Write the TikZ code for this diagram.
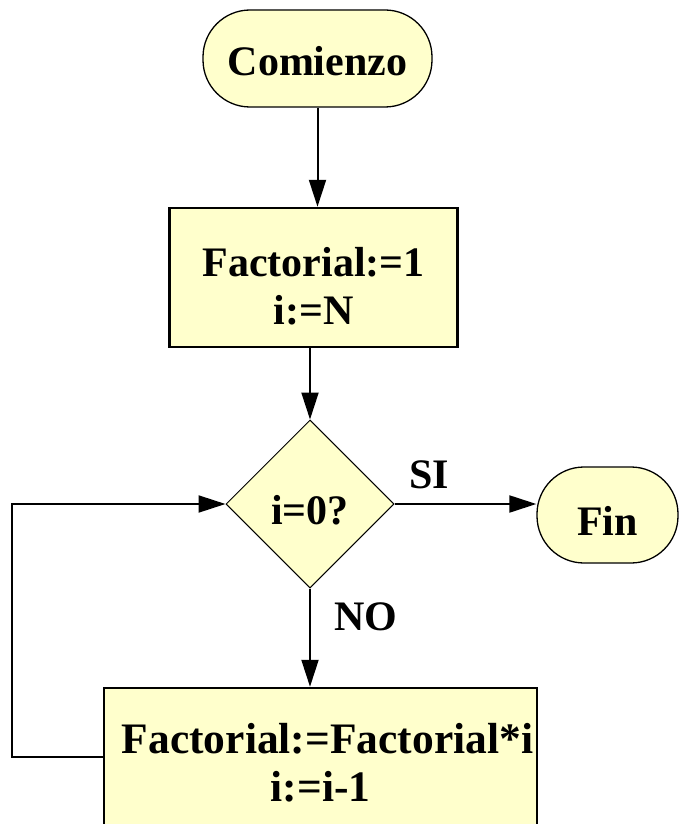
\documentclass[tikz,border=0pt]{standalone}
\usepackage{fontspec}
\setmainfont{Liberation Serif}
\usetikzlibrary{shapes.geometric, arrows.meta, positioning}
\definecolor{FlowYellow}{RGB}{255,255,204}

\begin{document}
\begin{tikzpicture}[
          x=1pt, y=-1pt,
          terminal/.style={rectangle, rounded corners=47pt, draw, line width=1.3pt, fill=FlowYellow, font=\bfseries\fontsize{42}{48}\selectfont},
          process/.style={rectangle, draw, line width=2.5pt, fill=FlowYellow, align=center, font=\bfseries\fontsize{42}{48}\selectfont},
          decision/.style={diamond, draw, line width=1pt, fill=FlowYellow, inner sep=0pt, minimum width=168pt, minimum height=168pt, text height=42pt, font=\bfseries\fontsize{42}{48}\selectfont},
          tag/.style={font=\bfseries\fontsize{42}{48}\selectfont},
          arr/.style={line width=2pt, -{Triangle[length=27pt, width=17pt]}}
        ]
          \clip (0,0) rectangle (680,824);
          \node[terminal, minimum width=229pt, minimum height=97pt, text height=35pt] (start) at (317.5,58.5) {Comienzo};
          \node[process, minimum width=288pt, minimum height=139pt] (init) at (313.5,277.5) {\rule{0pt}{47pt}Factorial:=1\\i:=N};
          \node[decision] (test) at (310,504) {i=0?};
          \node[terminal, minimum width=141pt, minimum height=96pt, text height=40pt] (fin) at (607.5,515) {Fin};
          \node[process, minimum width=433pt, minimum height=138pt, inner xsep=2pt, font=\bfseries\fontsize{43.5}{48}\selectfont] (loop) at (320.5,757) {\hspace*{14pt}\rule{0pt}{42pt}Factorial:=Factorial*i\\i:=i-1};
          \coordinate (back) at (12,757);
          \node[tag] (si) at (429,475) {SI};
          \node[tag] (no) at (366,617) {NO};

          \draw[arr] (start) -- (start |- init.north);
          \draw[arr] (test.north |- init.south) -- (test.north);
          \draw[arr] (test.east) -- (test.east -| fin.west);
          \draw[arr] (test.south) -- (test.south |- loop.north);
          \draw[arr] (loop.west) -- (back) |- (test.west);
        \end{tikzpicture}
\end{document}
